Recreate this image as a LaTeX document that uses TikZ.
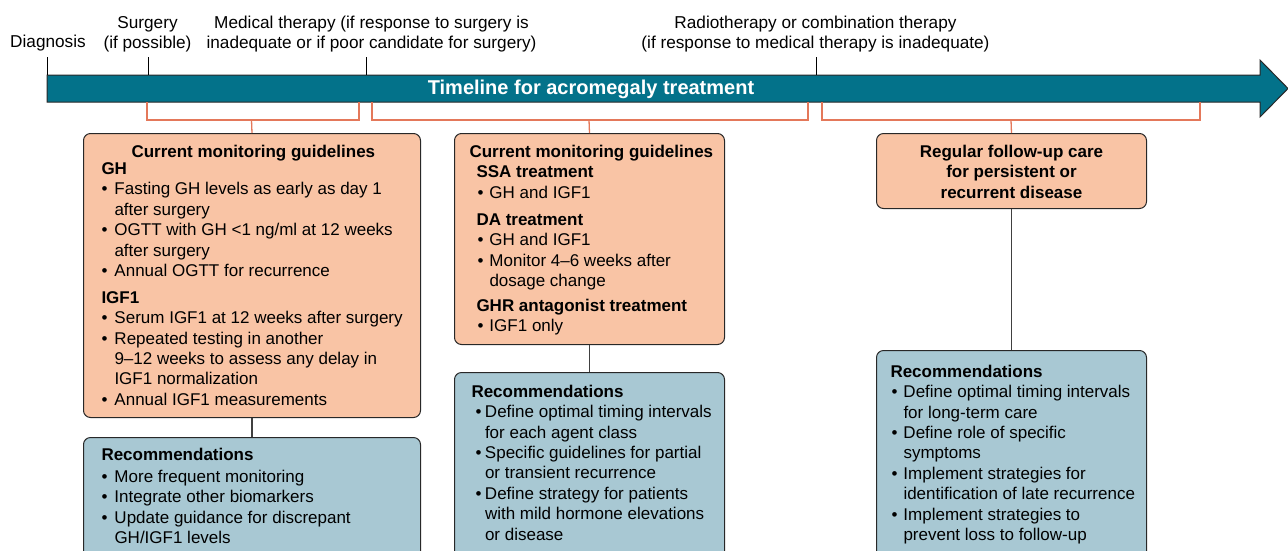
\documentclass[tikz,border=0pt]{standalone}
\usepackage{fontspec}
\setmainfont{Liberation Sans}
\usepackage{tikz}

\definecolor{guidefill}{RGB}{249,196,165}
\definecolor{recfill}{RGB}{168,200,211}
\definecolor{barfill}{RGB}{3,114,138}
\definecolor{brackcol}{RGB}{228,120,90}
\definecolor{linkcol}{RGB}{64,64,64}
\definecolor{boxcol}{RGB}{40,40,40}

\newlength{\bulw}
\newcommand{\hd}[2][0pt]{\par\noindent\hspace*{#1}\textbf{#2}}
\newcommand{\itm}[1]{\par\hangindent=\bulw\hangafter=1\noindent\makebox[\bulw][l]{\textbullet}#1}
\newcommand{\gap}[1]{\par\vspace{#1}}
% box text: width, height, left pad, bullet width, first baseline, lines
\newcommand{\boxbody}[6]{%
  \begin{minipage}[t][#2][t]{#1}%
    \fontsize{17}{20.4}\selectfont\raggedright
    \leftskip=#3\relax \rightskip=-60pt plus 1fil\relax
    \bulw=#4\relax \parindent=0pt
    \vspace*{\dimexpr#5-20.4pt\relax}\hbox{}%
    #6\par
  \end{minipage}}

\begin{document}
\begin{tikzpicture}[x=1pt, y=-1pt,
    box/.style = {draw=boxcol, line width=1pt, rounded corners=7pt, inner sep=0pt, anchor=north west},
    guide/.style = {box, fill=guidefill},
    recs/.style = {box, fill=recfill},
    link/.style = {draw=linkcol, line width=1.6pt},
    brack/.style = {draw=brackcol, line width=1.3pt},
    tick/.style = {draw=black, line width=0.9pt},
    lbl/.style = {font=\fontsize{17.2}{20.4}\selectfont, inner sep=0pt, anchor=base}]
    \clip (0,0) rectangle (1288,550);

    % timeline
    \draw[fill=barfill, draw=boxcol, line width=1pt] (47,75) -- (1260,75) -- (1260,60) -- (1288,88.5)
        -- (1260,117) -- (1260,102) -- (47,102) -- cycle;
    \node[font=\bfseries\fontsize{20}{24}\selectfont, text=white, inner sep=0pt, anchor=base] (tl) at (591,94.5) {Timeline for acromegaly treatment};

    \node[lbl] (diag) at (48,47.7) {Diagnosis};
    \node[lbl] (surg) at (147.5,28.3) {\begin{tabular}[t]{@{}c@{}}Surgery\\(if possible)\end{tabular}};
    \node[lbl] (med) at (371.5,28.3) {\begin{tabular}[t]{@{}c@{}}Medical therapy (if response to surgery is\\inadequate or if poor candidate for surgery)\end{tabular}};
    \node[lbl] (radio) at (815.5,28.3) {\begin{tabular}[t]{@{}c@{}}Radiotherapy or combination therapy\\(if response to medical therapy is inadequate)\end{tabular}};
    \draw[tick] (47,57) -- (47,75);
    \draw[tick] (148,57) -- (148,75);
    \draw[tick] (366,57) -- (366,75);
    \draw[tick] (816,57) -- (816,75);

    % brackets under the bar
    \draw[brack] (147,102) |- (359,120) -- (359,102);
    \draw[brack] (372,102) |- (808,120) -- (808,102);
    \draw[brack] (822,102) |- (1200,120) -- (1200,102);
    \coordinate (k1) at (251.5,120);
    \coordinate (k2) at (589,120);
    \coordinate (k3) at (1011,120);

    % guideline boxes
    \node[guide] (g1) at (83,133) {\boxbody{337pt}{284pt}{18pt}{13pt}{23.5pt}{%
        \hd[30pt]{Current monitoring guidelines}\gap{-3pt}
        \hd{GH}
        \itm{Fasting GH levels as early as day 1\newline after surgery}
        \itm{OGTT with GH <1 ng/ml at 12 weeks\newline after surgery}
        \itm{Annual OGTT for recurrence}\gap{6.5pt}
        \hd{IGF1}
        \itm{Serum IGF1 at 12 weeks after surgery}
        \itm{Repeated testing in another\newline 9--12 weeks to assess any delay in\newline IGF1 normalization}
        \itm{Annual IGF1 measurements}}};
    \node[guide] (g2) at (454,133) {\boxbody{270pt}{211pt}{23pt}{12pt}{23.7pt}{%
        \hd[-8pt]{Current monitoring guidelines}
        \hd[-1pt]{SSA treatment}
        \itm{GH and IGF1}\gap{7pt}
        \hd[-1pt]{DA treatment}
        \itm{GH and IGF1}
        \itm{Monitor 4--6 weeks after\newline dosage change}\gap{4pt}
        \hd[-1pt]{GHR antagonist treatment}
        \itm{IGF1 only}}};
    \node[guide] (g3) at (876,133) {\boxbody{270pt}{75pt}{0pt}{0pt}{23.7pt}{%
        \centerline{\bfseries Regular follow-up care}
        \centerline{\bfseries for persistent or}
        \centerline{\bfseries recurrent disease}}};

    % recommendation boxes
    \node[recs] (r1) at (83,437) {\boxbody{337pt}{123pt}{18pt}{13pt}{23pt}{%
        \hd{Recommendations}\gap{1.3pt}
        \itm{More frequent monitoring}
        \itm{Integrate other biomarkers}
        \itm{Update guidance for discrepant\newline GH/IGF1 levels}}};
    \node[recs] (r2) at (454,372) {\boxbody{270pt}{188pt}{21pt}{9.5pt}{24.7pt}{%
        \hd[-4pt]{Recommendations}
        \itm{Define optimal timing intervals\newline for each agent class}
        \itm{Specific guidelines for partial\newline or transient recurrence}
        \itm{Define strategy for patients\newline with mild hormone elevations\newline or disease}}};
    \node[recs] (r3) at (876,350) {\boxbody{270pt}{210pt}{15pt}{12pt}{26.7pt}{%
        \hd[-1pt]{Recommendations}
        \itm{Define optimal timing intervals\newline for long-term care}
        \itm{Define role of specific\newline symptoms}
        \itm{Implement strategies for\newline identification of late recurrence}
        \itm{Implement strategies to\newline prevent loss to follow-up}}};

    \draw[brack] (k1) -- (g1.north);
    \draw[brack] (k2) -- (g2.north);
    \draw[brack] (k3) -- (g3.north);
    \draw[link] (g1) -- (r1);
    \draw[link] (g2) -- (r2);
    \draw[link] (g3) -- (r3);
\end{tikzpicture}
\end{document}
